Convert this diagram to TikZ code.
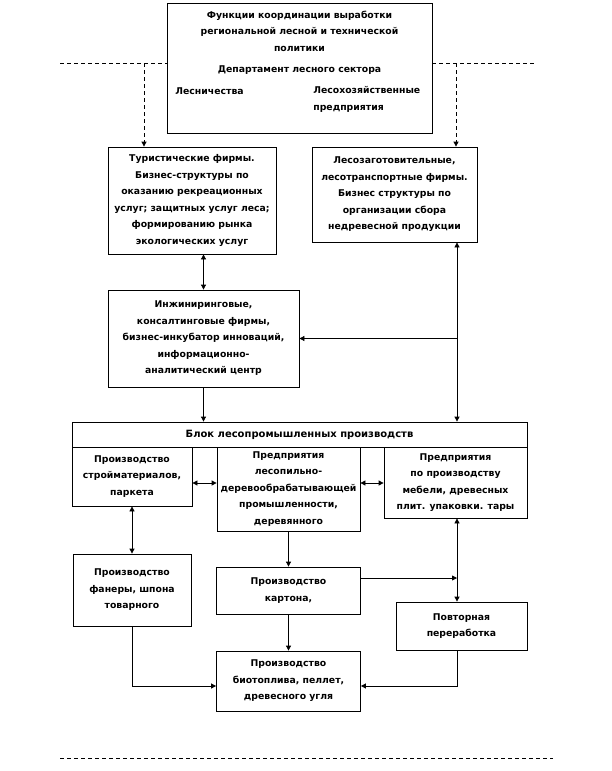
\documentclass[tikz,border=0pt]{standalone}
\usepackage{fontspec}
\setmainfont{DejaVu Sans}
\usetikzlibrary{arrows.meta}
\tikzset{
  every picture/.style={font=\bfseries\fontsize{9.3}{16.5}\selectfont, line width=0.8pt, x=1pt, y=-1pt},
  box/.style={draw, align=center, inner sep=0pt},
  txt/.style={align=center, inner sep=0pt},
  arrow/.style={-{Triangle[length=5pt, width=5pt]}},
  dbl/.style={{Triangle[length=5pt, width=5pt]}-{Triangle[length=5pt, width=5pt]}},
  dashline/.style={dash pattern=on 4pt off 3pt},
  dasharrow/.style={dashline, -{Triangle[length=5pt, width=5pt]}},
}

\begin{document}
\begin{tikzpicture}
  \useasboundingbox (0,0) rectangle (612,771);
  % top block
  \node[box, minimum width=265pt, minimum height=130pt] (top) at (299.5,68) {};
  \node[txt] (fun) at (299.5,31) {Функции координации выработки\\региональной лесной и технической\\политики};
  \node[txt] (dep) at (299.5,70) {Департамент лесного сектора};
  \node[txt, anchor=west] (les) at (175,91) {Лесничества};
  \node[txt, anchor=west, align=left] (lhp) at (313,99.5) {Лесохозяйственные\\предприятия};
  % second row
  \node[box, minimum width=168pt, minimum height=107pt] (tour) at (192,200.5) {Туристические фирмы.\\Бизнес-структуры по\\оказанию рекреационных\\услуг; защитных услуг леса;\\формированию рынка\\экологических услуг};
  \node[box, minimum width=165pt, minimum height=95pt] (fir) at (394.5,194.5) {Лесозаготовительные,\\лесотранспортные фирмы.\\Бизнес структуры по\\организации сбора\\недревесной продукции};
  \node[box, minimum width=191pt, minimum height=97pt] (eng) at (203.5,338.5) {Инжиниринговые,\\консалтинговые фирмы,\\бизнес-инкубатор инноваций,\\информационно-\\аналитический центр};
  % block of production
  \node[box, minimum width=455pt, minimum height=25pt, font=\bfseries\fontsize{10}{12}\selectfont] (blok) at (299.5,434.5) {Блок лесопромышленных производств};
  \node[box, minimum width=120pt, minimum height=59pt] (sub1) at (132,476.5) {Производство\\стройматериалов,\\паркета};
  \node[box, minimum width=143pt, minimum height=84pt] (sub2) at (288.5,489) {Предприятия\\лесопильно-\\деревообрабатывающей\\промышленности,\\деревянного};
  \node[box, minimum width=143pt, minimum height=71pt] (sub3) at (455.5,482.5) {Предприятия\\по производству\\мебели, древесных\\плит. упаковки. тары};
  \node[box, minimum width=118pt, minimum height=72pt] (fan) at (132,590) {Производство\\фанеры, шпона\\товарного};
  \node[box, minimum width=144pt, minimum height=47pt] (kart) at (288.5,590.5) {Производство\\картона,};
  \node[box, minimum width=131pt, minimum height=48pt] (povt) at (461.5,626) {Повторная\\переработка};
  \node[box, minimum width=144pt, minimum height=60pt] (bio) at (288.5,681) {Производство\\биотоплива, пеллет,\\древесного угля};
  % helper points
  \coordinate (dL) at (60,63);
  \coordinate (dR) at (537,63);
  \coordinate (dT) at (144,63);
  \coordinate (dF) at (456,63);
  \coordinate (jR) at (457,338.5);
  \coordinate (hA) at (204,483);
  \coordinate (jP) at (457,578);
  \coordinate (hB) at (132,686);
  \coordinate (bL) at (60,758);
  \coordinate (bR) at (553,758);
  % connectors
  \draw[dashline] (dL) -- (dL -| top.west);
  \draw[dashline] (dR -| top.east) -- (dR);
  \draw[dasharrow] (dT) -- (dT |- tour.north);
  \draw[dasharrow] (dF) -- (dF |- fir.north);
  \draw[dbl] (eng.north) -- (eng.north |- tour.south);
  \draw[dbl] (jR |- fir.south) -- (jR |- blok.north);
  \draw[arrow] (jR) -- (eng.east);
  \draw[arrow] (eng.south) -- (eng.south |- blok.north);
  \draw[dbl] (hA -| sub1.east) -- (hA -| sub2.west);
  \draw[dbl] (hA -| sub2.east) -- (hA -| sub3.west);
  \draw[dbl] (sub1.south) -- (fan.north);
  \draw[arrow] (sub2.south) -- (kart.north);
  \draw[dbl] (jP |- sub3.south) -- (jP |- povt.north);
  \draw[arrow] (kart.east |- jP) -- (jP);
  \draw[arrow] (kart.south) -- (bio.north);
  \draw[arrow] (fan.south) |- (hB -| bio.west);
  \draw[arrow] (jP |- povt.south) |- (hB -| bio.east);
  \draw[dashline] (bL) -- (bR);
\end{tikzpicture}
\end{document}
